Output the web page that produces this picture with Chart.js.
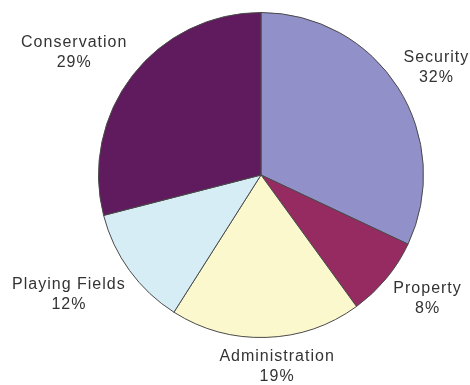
<!DOCTYPE html>
<html>
<head>
<meta charset="utf-8">
<script src="https://cdn.jsdelivr.net/npm/chart.js@4"></script>
<style>
  html, body { margin: 0; padding: 0; background: #fff; }
  #wrap { width: 470px; height: 385px; }
</style>
</head>
<body>
<div id="wrap"><canvas id="chart_budgetPie" width="470" height="385"></canvas></div>
<script>
var categories = ['Security', 'Property', 'Administration', 'Playing Fields', 'Conservation'];
var shares = [32, 8, 19, 12, 29];
var sliceColors = ['#9190c8', '#962b62', '#fbf8cd', '#d7edf5', '#5f1b5d'];

// where each outside label sits: gap beyond the rim (px) and a small turn from the slice middle (deg)
var labelGap = [43, 45, 30, 64, 61];
var labelTurn = [1, -3, -3, 4, -4.5];

var outsideLabels = {
    id: 'outsideLabels',
    afterDatasetsDraw: function (chart) {
        var ctx = chart.ctx;
        var meta = chart.getDatasetMeta(0);
        ctx.save();
        ctx.font = '16px "Liberation Sans", Arial, sans-serif';
        ctx.letterSpacing = '1px';
        ctx.fillStyle = '#333333';
        ctx.textAlign = 'center';
        ctx.textBaseline = 'middle';
        meta.data.forEach(function (arc, i) {
            var mid = (arc.startAngle + arc.endAngle) / 2 + labelTurn[i] * Math.PI / 180;
            var d = arc.outerRadius + labelGap[i];
            var x = arc.x + Math.cos(mid) * d;
            var y = arc.y + Math.sin(mid) * d;
            ctx.fillText(categories[i], x, y - 10);
            ctx.fillText(shares[i] + '%', x, y + 10);
        });
        ctx.restore();
    }
};

var chart_budgetPie = new Chart(document.getElementById('chart_budgetPie'), {
    type: 'pie',
    data: {
        labels: categories,
        datasets: [{
            data: shares,
            backgroundColor: sliceColors,
            borderColor: '#4a4a4a',
            borderWidth: 1
        }]
    },
    options: {
        animation: false,
        responsive: false,
        layout: {
            padding: { left: 98, right: 46, top: 12, bottom: 47 }
        },
        plugins: {
            legend: { display: false },
            tooltip: { enabled: false }
        }
    },
    plugins: [outsideLabels, {
        id: 'whiteBg',
        beforeDraw: function (chart) {
            var ctx = chart.ctx;
            ctx.save();
            ctx.fillStyle = 'white';
            ctx.fillRect(0, 0, chart.width, chart.height);
            ctx.restore();
        }
    }]
});
</script>
</body>
</html>
